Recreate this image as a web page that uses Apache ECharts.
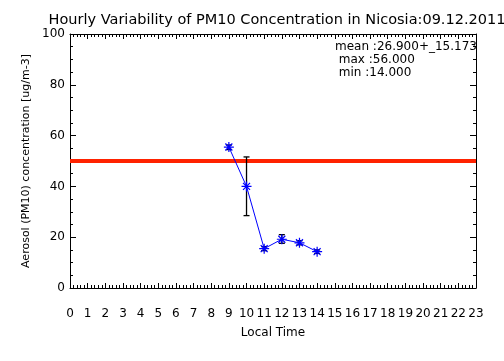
<!DOCTYPE html>
<html><head><meta charset="utf-8">
<script src="https://cdn.jsdelivr.net/npm/echarts@6/dist/echarts.min.js"></script>
<style>html,body{margin:0;padding:0;background:#fff}#c{width:504px;height:361px}</style>
</head><body><div id="c"></div>
<script>
var hours = [9, 10, 11, 12, 13, 14];
var pm10 = [55.5, 40.0, 15.5, 19.2, 17.8, 14.3];
var errLow = [54.5, 28.5, 14.7, 17.6, 17.0, 13.6];
var errHigh = [56.3, 51.6, 16.3, 21.0, 18.6, 15.0];
var limitValue = 50;
var xTicks = ['0','1','2','3','4','5','6','7','8','9','10','11','12','13','14','15','16','17','18','19','20','21','22','23'];
var statLines = ['mean :26.900+_15.173', ' max :56.000', ' min :14.000'];
var titleText = 'Hourly Variability of PM10 Concentration in Nicosia:09.12.2011';
var yName = 'Aerosol (PM10) concentration [ug/m-3]';
var xName = 'Local Time';

var FONT = 'DejaVu Sans';
var chart = echarts.init(document.getElementById('c'), null, {renderer: 'canvas'});
var lineData = hours.map(function (h, i) { return [h, pm10[i]]; });
var errData = hours.map(function (h, i) { return [h, errLow[i], errHigh[i]]; });
var asterisk = 'path://M0,-10L0,10M-10,0L10,0M-7,-7L7,7M-7,7L7,-7';

var option = {
  animation: false,
  backgroundColor: '#fff',
  title: {
    text: titleText, left: 272, top: 8, textAlign: 'center',
    textStyle: {fontFamily: FONT, fontSize: 14.5, fontWeight: 'normal', color: '#000'}
  },
  grid: {left: 70, right: 28, top: 34, bottom: 73, containLabel: false},
  xAxis: [{
    type: 'value', min: 0, max: 23, interval: 1, position: 'bottom',
    name: xName, nameLocation: 'middle', nameGap: 39,
    nameTextStyle: {fontFamily: FONT, fontSize: 12, color: '#000'},
    axisLine: {show: true, onZero: false, lineStyle: {color: '#000', width: 1}},
    axisTick: {show: true, inside: true, length: 5, lineStyle: {color: '#000'}},
    minorTick: {show: true, splitNumber: 5, length: 3, lineStyle: {color: '#000'}},
    axisLabel: {margin: 20, fontFamily: FONT, fontSize: 12, color: '#000',
      formatter: function (v) { return xTicks[v]; }},
    splitLine: {show: false}
  }, {
    type: 'value', min: 0, max: 23, interval: 1, position: 'top',
    axisLine: {show: true, onZero: false, lineStyle: {color: '#000', width: 1}},
    axisTick: {show: true, inside: true, length: 5, lineStyle: {color: '#000'}},
    minorTick: {show: true, splitNumber: 5, length: 3, lineStyle: {color: '#000'}},
    axisLabel: {show: false}, splitLine: {show: false}
  }],
  yAxis: [{
    type: 'value', min: 0, max: 100, interval: 20, position: 'left',
    name: yName, nameLocation: 'middle', nameGap: 38, nameRotate: 90,
    nameTextStyle: {fontFamily: FONT, fontSize: 11, color: '#000'},
    axisLine: {show: true, onZero: false, lineStyle: {color: '#000', width: 1}},
    axisTick: {show: true, inside: true, length: 6, lineStyle: {color: '#000'}},
    minorTick: {show: true, splitNumber: 4, length: 3, lineStyle: {color: '#000'}},
    axisLabel: {margin: 5, fontFamily: FONT, fontSize: 12, color: '#000'},
    splitLine: {show: false}
  }, {
    type: 'value', min: 0, max: 100, interval: 20, position: 'right',
    axisLine: {show: true, onZero: false, lineStyle: {color: '#000', width: 1}},
    axisTick: {show: true, inside: true, length: 6, lineStyle: {color: '#000'}},
    minorTick: {show: true, splitNumber: 4, length: 3, lineStyle: {color: '#000'}},
    axisLabel: {show: false}, splitLine: {show: false}
  }],
  series: [{
    type: 'line', data: [[0, limitValue], [23, limitValue]], xAxisIndex: 0, yAxisIndex: 0,
    symbol: 'none', lineStyle: {color: '#ff2200', width: 4}, z: 1, silent: true
  }, {
    type: 'custom', xAxisIndex: 0, yAxisIndex: 0, data: errData, z: 2,
    renderItem: function (params, api) {
      var x = api.value(0);
      var lo = api.coord([x, api.value(1)]);
      var hi = api.coord([x, api.value(2)]);
      var cap = 3;
      var st = {stroke: '#000', lineWidth: 1.3};
      return {type: 'group', children: [
        {type: 'line', shape: {x1: lo[0], y1: lo[1], x2: hi[0], y2: hi[1]}, style: st},
        {type: 'line', shape: {x1: lo[0] - cap, y1: lo[1], x2: lo[0] + cap, y2: lo[1]}, style: st},
        {type: 'line', shape: {x1: hi[0] - cap, y1: hi[1], x2: hi[0] + cap, y2: hi[1]}, style: st}
      ]};
    }
  }, {
    type: 'line', data: lineData, xAxisIndex: 0, yAxisIndex: 0, z: 3,
    symbol: asterisk, symbolSize: 10,
    lineStyle: {color: '#0000ff', width: 1},
    itemStyle: {color: 'none', borderColor: '#0000ff', borderWidth: 1.2}
  }],
  graphic: statLines.map(function (t, i) {
    return {type: 'text', left: 335, top: 41 + i * 13, z: 10,
      style: {text: t, fontFamily: FONT, fontSize: 12, fill: '#000'}};
  })
};
chart.setOption(option);
</script>
</body></html>
